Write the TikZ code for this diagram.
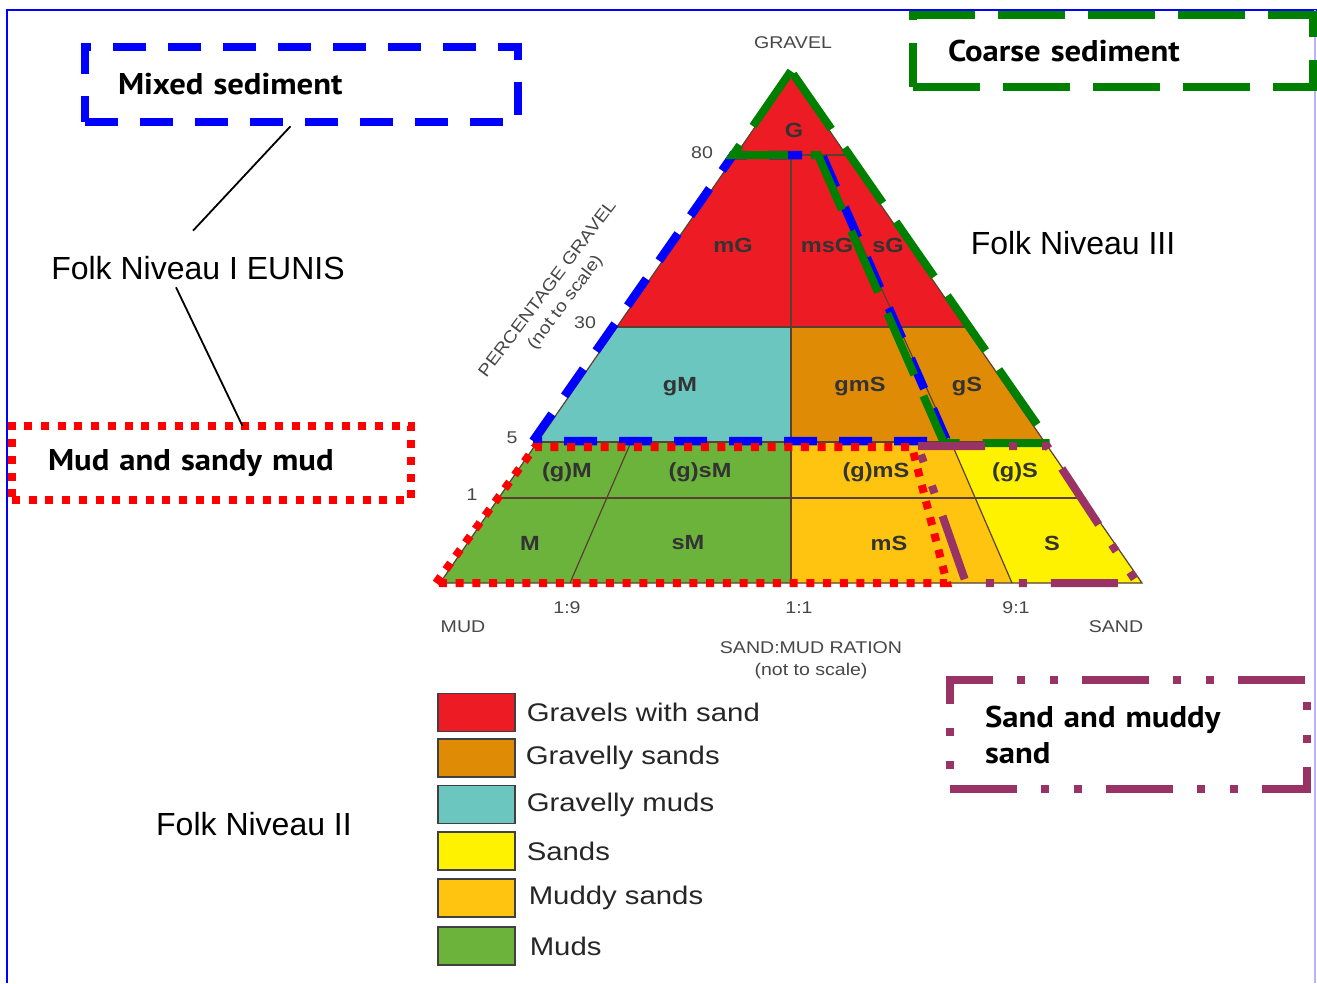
\documentclass[tikz,border=0pt]{standalone}
\usepackage{fontspec}
\setmainfont{Liberation Sans}
\newfontfamily\figfont[FakeStretch=1.15]{Liberation Sans}
\newfontfamily\boxfont[FakeStretch=1.09]{PT Sans}
\usepackage{tikz}
\usetikzlibrary{positioning}
\definecolor{gravelred}{HTML}{ED1C24}
\definecolor{gravorange}{HTML}{DF8B06}
\definecolor{gravcyan}{HTML}{6CC6C0}
\definecolor{sandyellow}{HTML}{FFF200}
\definecolor{mudsand}{HTML}{FFC410}
\definecolor{mudgreen}{HTML}{6CB33C}
\definecolor{coarsegreen}{HTML}{008000}
\definecolor{sandpurple}{HTML}{993366}
\definecolor{framelilac}{HTML}{B4B4FF}
\definecolor{gridline}{HTML}{5A4030}

\begin{document}
\begin{tikzpicture}[x=1pt,y=-1pt,
    cell/.style={font=\figfont\bfseries\fontsize{20.5}{24}\selectfont, text=black!80},
    axis/.style={font=\figfont\fontsize{17}{22}\selectfont, text=black!72},
    legtext/.style={font=\figfont\fontsize{25.5}{30}\selectfont, text=black!85, inner sep=0pt},
    swatch/.style={draw=black!75, line width=1.2pt, minimum width=77pt, minimum height=38pt, inner sep=0pt},
    folk/.style={font=\fontsize{32}{38}\selectfont},
    tag/.style={font=\boxfont\bfseries\fontsize{30}{36}\selectfont, align=left, inner ysep=0pt},
    grid/.style={draw=gridline, line width=1.2pt},
    link/.style={draw=black, line width=1.8pt},
    mixedline/.style={draw=blue, line width=8.5pt, dash pattern=on 33pt off 22pt},
    coarseline/.style={draw=coarsegreen, line width=8pt, dash pattern=on 67pt off 23pt},
    mudline/.style={draw=red, line width=8pt, dash pattern=on 8pt off 8.7pt},
    sandline/.style={draw=sandpurple, line width=8pt, dash pattern=on 67pt off 24pt on 8pt off 25pt on 8pt off 24pt}]
    \useasboundingbox (0,0) rectangle (1317,983);
    \fill[white] (0,0) rectangle (1317,983);
    \draw[blue, line width=2pt] (1317,10) -- (7,10) -- (7,983);
    \draw[framelilac, line width=2pt] (1315,10) -- (1315,983);

    \coordinate (apex) at (791,75);
    \coordinate (l80) at (735.7,155);
    \coordinate (r80) at (846.3,155);
    \coordinate (l30) at (616.9,327);
    \coordinate (r30) at (965.1,327);
    \coordinate (l5) at (537.4,442);
    \coordinate (r5) at (1044.6,442);
    \coordinate (l1) at (498.7,498);
    \coordinate (r1) at (1083.3,498);
    \coordinate (mud) at (440,583);
    \coordinate (sand) at (1142,583);
    \coordinate (h80) at (791,155);
    \coordinate (h30) at (791,327);
    \coordinate (h5) at (791,442);
    \coordinate (h0) at (791,583);
    \coordinate (n80) at (821,155);
    \coordinate (n5) at (951,442);
    \coordinate (n0) at (1012,583);
    \coordinate (t5) at (631,442);
    \coordinate (t0) at (570,583);

    \fill[gravelred] (apex) -- (l30) -- (r30) -- cycle;
    \fill[gravcyan] (l30) -- (h30) -- (h5) -- (l5) -- cycle;
    \fill[gravorange] (h30) -- (r30) -- (r5) -- (h5) -- cycle;
    \fill[mudgreen] (l5) -- (h5) -- (h0) -- (mud) -- cycle;
    \fill[mudsand] (h5) -- (n5) -- (n0) -- (h0) -- cycle;
    \fill[sandyellow] (n5) -- (r5) -- (sand) -- (n0) -- cycle;

    \draw[grid] (apex) -- (mud) -- (sand) -- cycle;
    \draw[grid] (l80) -- (r80);
    \draw[grid] (l30) -- (r30);
    \draw[grid] (l5) -- (r5);
    \draw[grid] (l1) -- (r1);
    \draw[grid] (h80) -- (h0);
    \draw[grid] (n80) -- (n5) -- (n0);
    \draw[grid] (t5) -- (t0);

    \node[cell] (cg) at (794,130) {G};
    \node[cell] (cmg) at (733,245) {mG};
    \node[cell] (cmsg) at (827,245) {msG};
    \node[cell] (csg) at (888,245) {sG};
    \node[cell] (cgm) at (680,387) {gM};
    \node[cell] (cgms) at (860,387) {gmS};
    \node[cell] (cgs) at (967,387) {gS};
    \node[cell] (ctm) at (567,472) {(g)M};
    \node[cell] (ctsm) at (700,472) {(g)sM};
    \node[cell] (ctms) at (876,472) {(g)mS};
    \node[cell] (cts) at (1015,472) {(g)S};
    \node[cell] (cm) at (530,543) {M};
    \node[cell] (csm) at (688,543) {sM};
    \node[cell] (cms) at (889,543) {mS};
    \node[cell] (cs) at (1052,543) {S};

    \node[axis] (gravel) at (793,43) {GRAVEL};
    \node[axis] (p80) at (702,153) {80};
    \node[axis] (p30) at (585,323) {30};
    \node[axis] (p5) at (512,438) {5};
    \node[axis] (p1) at (472,495) {1};
    \node[axis] (q19) at (567,608) {1:9};
    \node[axis] (q11) at (799,608) {1:1};
    \node[axis] (q91) at (1016,608) {9:1};
    \node[axis] (mudlab) at (463,627) {MUD};
    \node[axis] (sandlab) at (1116,627) {SAND};
    \node[axis, align=center] (ratio) at (811,660) {SAND:MUD RATION\\(not to scale)};
    \node[axis, align=center, rotate=53] (pct) at (557,296) {PERCENTAGE GRAVEL\\(not to scale)};

    \draw[mixedline] (533,441) -- (733,155) -- (822,155) -- (947,441) -- cycle;
    \draw[coarseline] (791,71) -- (733,155) -- (818,155) -- (944,443) -- (1050,443) -- cycle;
    \draw[mudline] (436,583) -- (535,447) -- (912,447) -- (947,583) -- cycle;
    \draw[sandline] (918,446) -- (1047,446) -- (1137,583) -- (966,583) -- cycle;

    \node[tag, mixedline, text width=367pt, minimum height=75pt, inner xsep=33pt] (mixed) at (301.5,84.5) {Mixed sediment};
    \node[tag, coarseline, text width=330pt, minimum height=72pt, inner xsep=35pt] (coarse) at (1113,51) {Coarse sediment};
    \node[tag, mudline, text width=327pt, minimum height=74pt, inner xsep=36pt] (mudbox) at (211.5,463) {Mud and sandy mud};
    \node[tag, sandline, text width=287pt, minimum height=109pt, inner xsep=35pt] (sandbox) at (1128.5,734.5) {Sand and muddy\\sand};

    \node[folk] (eunis) at (198,268) {Folk Niveau I EUNIS};
    \node[folk] (folk3) at (1073,243) {Folk Niveau III};
    \node[folk] (folk2) at (254,824) {Folk Niveau II};

    \draw[link] ([xshift=-11pt]mixed.south) -- ([xshift=-5pt,yshift=22pt]eunis.north);
    \draw[link] ([xshift=-22pt,yshift=-4pt]eunis.south) -- ([xshift=31pt,yshift=-4pt]mudbox.north);

    \node[swatch, fill=gravelred] (sw1) at (476.5,712.5) {};
    \node[swatch, fill=gravorange] (sw2) at (476.5,758) {};
    \node[swatch, fill=gravcyan] (sw3) at (476.5,804.5) {};
    \node[swatch, fill=sandyellow] (sw4) at (476.5,851) {};
    \node[swatch, fill=mudsand] (sw5) at (476.5,898) {};
    \node[swatch, fill=mudgreen] (sw6) at (476.5,946) {};
    \node[legtext, right=11pt of sw1] (lg1) {Gravels with sand};
    \node[legtext, right=10pt of sw2] (lg2) {Gravelly sands};
    \node[legtext, right=11pt of sw3] (lg3) {Gravelly muds};
    \node[legtext, right=11pt of sw4] (lg4) {Sands};
    \node[legtext, right=13pt of sw5] (lg5) {Muddy sands};
    \node[legtext, right=14pt of sw6] (lg6) {Muds};
\end{tikzpicture}
\end{document}
